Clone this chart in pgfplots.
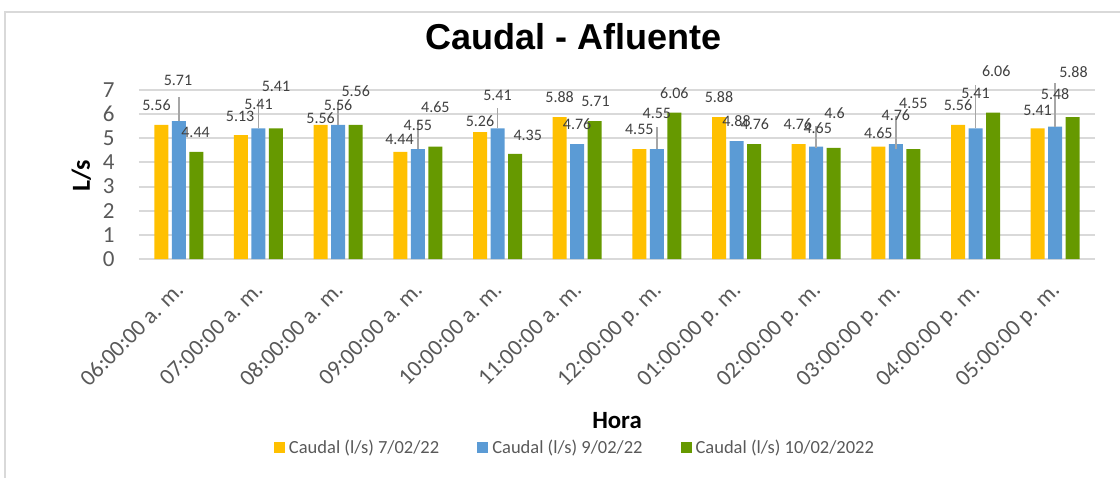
\documentclass[border=0pt]{standalone}
\usepackage{pgfplots}
\usepackage{pgfplotstable}
\pgfplotsset{compat=1.18}
\usepackage{fontspec}
\setmainfont{Carlito}
\newfontfamily\titlefont{Liberation Sans}
\definecolor{cY}{HTML}{FFC000}
\definecolor{cB}{HTML}{5B9BD5}
\definecolor{cG}{HTML}{669900}
\definecolor{gridc}{HTML}{D9D9D9}
\definecolor{txt}{HTML}{595959}
\definecolor{lbl}{HTML}{404040}
\definecolor{lead}{HTML}{A6A6A6}

\pgfplotstableread{
x y e
0 5.56 0
1 5.13 0
2 5.56 0
3 4.44 0
4 5.26 0
5 5.88 0
6 4.55 0
7 5.88 0
8 4.76 0
9 4.65 0
10 5.56 0
11 5.41 0
}\tabY
\pgfplotstableread{
x y e
0 5.71 0.98
1 5.41 0.48
2 5.56 0
3 4.55 0.45
4 5.41 0.83
5 4.76 0
6 4.55 0.93
7 4.88 0
8 4.65 0
9 4.76 0.65
10 5.41 0.93
11 5.48 0.80
}\tabB
\pgfplotstableread{
x y e
0 4.44 0
1 5.41 1.21
2 5.56 0.93
3 4.65 1.11
4 4.35 0
5 5.71 0
6 6.06 0
7 4.76 0
8 4.6 0.91
9 4.55 1.37
10 6.06 1.14
11 5.88 1.40
}\tabG
\pgfplotstableread{
x y lab
-0.28 6.38 5.56
-0.01 7.39 5.71
0.21 5.23 4.44
0.77 5.92 5.13
1.00 6.42 5.41
1.22 7.14 5.41
1.78 5.83 5.56
2.00 6.38 5.56
2.22 6.97 5.56
2.77 4.97 4.44
3.00 5.55 4.55
3.22 6.28 4.65
3.78 5.72 5.26
4.00 6.79 5.41
4.38 5.11 4.35
4.78 6.70 5.88
5.00 5.59 4.76
5.23 6.54 5.71
5.78 5.37 4.55
6.00 6.01 4.55
6.22 6.86 6.06
6.78 6.70 5.88
7.00 5.73 4.88
7.23 5.59 4.76
7.77 5.59 4.76
8.02 5.44 4.65
8.23 6.03 4.6
8.78 5.21 4.65
9.00 5.94 4.76
9.22 6.45 4.55
9.78 6.38 5.56
10.00 6.86 5.41
10.26 7.76 6.06
10.78 6.17 5.41
11.00 6.82 5.48
11.23 7.76 5.88
}\tabL

\begin{document}
\begin{tikzpicture}
\draw[gridc, line width=1pt] (-67pt,-120pt) -- (-67pt,123.5pt) -- (520pt,123.5pt);
\begin{axis}[
  at={(0,0)}, anchor=south west,
  scale only axis, width=478pt, height=84.5pt,
  xmin=-0.5, xmax=11.5, ymin=0, ymax=7,
  clip=false,
  axis line style={draw=none},
  major tick length=0pt,
  ymajorgrids, grid style={gridc, line width=1pt},
  ytick={0,1,2,3,4,5,6,7},
  xtick={0,1,2,3,4,5,6,7,8,9,10,11},
  xticklabels={06:00:00 a. m., 07:00:00 a. m., 08:00:00 a. m., 09:00:00 a. m., 10:00:00 a. m., 11:00:00 a. m., 12:00:00 p. m., 01:00:00 p. m., 02:00:00 p. m., 03:00:00 p. m., 04:00:00 p. m., 05:00:00 p. m.},
  ticklabel style={font=\fontsize{11.5}{13}\selectfont, text=txt},
  yticklabel style={/pgf/number format/assume math mode=true, anchor=east, inner sep=0pt, xshift=-12pt},
  xticklabel style={inner sep=0pt, xshift=-2.5pt, yshift=-10.5pt, rotate=45, anchor=north east},
  title={Caudal - Afluente},
  title style={font=\titlefont\bfseries\fontsize{18}{20}\selectfont, at={(0.455,1.2367)}, anchor=base, yshift=-5.5pt},
  xlabel={Hora},
  xlabel style={font=\bfseries\fontsize{12.4}{14}\selectfont, at={(0.5,-1.0018)}, anchor=base},
  ylabel={L/s},
  ylabel style={font=\bfseries\fontsize{13}{15}\selectfont, at={(-0.05126,0.491)}, anchor=base, rotate=0},
  legend columns=3,
  legend cell align=left,
  legend style={at={(0.1412,-1.118)}, anchor=west, draw=none, fill=none, inner sep=0pt, outer sep=0pt,
    font=\fontsize{9.25}{11}\selectfont, text=txt,
    nodes={inner xsep=2pt, inner ysep=1pt},
    /tikz/every odd column/.append style={column sep=0pt},
    /tikz/every even column/.append style={column sep=17pt}},
]
\addplot[ybar, bar width=7pt, bar shift=-8.75pt, fill=cY, draw=none,
  legend image code/.code={\fill[cY] (0pt,-2.75pt) rectangle (5.5pt,2.75pt);}]
  table[x=x, y=y] {\tabY};
\addlegendentry{Caudal (l/s) 7/02/22}
\addplot[ybar, bar width=7pt, bar shift=0pt, fill=cB, draw=none,
  error bars/.cd, y dir=plus, y explicit, error mark=none,
  error bar style={lead, line width=0.75pt},
  /pgfplots/legend image code/.code={\fill[cB] (0pt,-2.75pt) rectangle (5.5pt,2.75pt);}]
  table[x=x, y=y, y error=e] {\tabB};
\addlegendentry{Caudal (l/s) 9/02/22}
\addplot[ybar, bar width=7pt, bar shift=8.75pt, fill=cG, draw=none,
  error bars/.cd, y dir=plus, y explicit, error mark=none,
  error bar style={lead, line width=0.75pt},
  /pgfplots/legend image code/.code={\fill[cG] (0pt,-2.75pt) rectangle (5.5pt,2.75pt);}]
  table[x=x, y=y, y error=e] {\tabG};
\addlegendentry{Caudal (l/s) 10/02/2022}
\addplot[only marks, mark=none, forget plot,
  nodes near coords, point meta=explicit symbolic,
  every node near coord/.append style={anchor=center, font=\fontsize{8}{9}\selectfont, text=lbl, inner sep=0pt}]
  table[x=x, y=y, meta=lab] {\tabL};
\end{axis}
\pgfresetboundingbox
\path[use as bounding box] (-69.5pt,-109pt) rectangle (490.5pt,129.5pt);
\end{tikzpicture}
\end{document}
